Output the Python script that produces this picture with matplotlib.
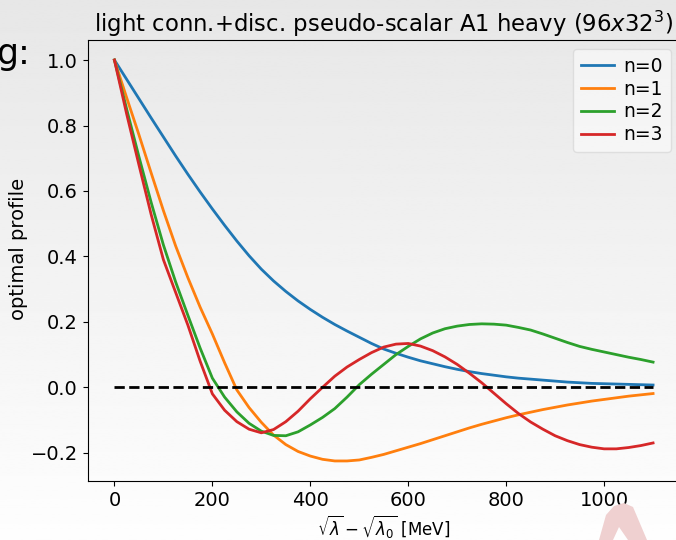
import numpy as np
import matplotlib
matplotlib.use("Agg")
import matplotlib.pyplot as plt
from matplotlib.patches import Polygon

# x grid (sqrt(lambda) - sqrt(lambda_0), MeV), values every 25 MeV
x_mev = list(range(0, 1101, 25))

# optimal profiles, one per n
prof_n0 = [1.0, 0.941, 0.882, 0.823, 0.765, 0.707, 0.651, 0.597, 0.545, 0.495,
           0.447, 0.402, 0.361, 0.325, 0.293, 0.264, 0.238, 0.214, 0.192, 0.172,
           0.153, 0.134, 0.117, 0.104, 0.092, 0.081, 0.072, 0.063, 0.055, 0.048,
           0.042, 0.037, 0.032, 0.028, 0.025, 0.022, 0.019, 0.016, 0.014, 0.012,
           0.011, 0.01, 0.009, 0.008, 0.007]
prof_n1 = [1.0, 0.885, 0.772, 0.655, 0.54, 0.432, 0.335, 0.245, 0.163, 0.075,
           -0.008, -0.062, -0.107, -0.146, -0.175, -0.196, -0.21, -0.22, -0.225, -0.225,
           -0.222, -0.214, -0.205, -0.194, -0.183, -0.172, -0.16, -0.148, -0.136, -0.124,
           -0.113, -0.103, -0.093, -0.084, -0.076, -0.068, -0.061, -0.054, -0.048, -0.042,
           -0.037, -0.032, -0.027, -0.023, -0.019]
prof_n2 = [1.0, 0.85, 0.705, 0.565, 0.435, 0.322, 0.22, 0.12, 0.028, -0.03,
           -0.075, -0.11, -0.134, -0.147, -0.148, -0.136, -0.115, -0.092, -0.065, -0.03,
           0.008, 0.04, 0.07, 0.1, 0.125, 0.148, 0.166, 0.179, 0.187, 0.192,
           0.194, 0.193, 0.19, 0.183, 0.175, 0.163, 0.15, 0.137, 0.125, 0.116,
           0.108, 0.1, 0.092, 0.085, 0.077]
prof_n3 = [1.0, 0.835, 0.68, 0.528, 0.39, 0.29, 0.19, 0.08, -0.02, -0.07,
           -0.105, -0.128, -0.139, -0.129, -0.105, -0.073, -0.035, 0.0, 0.034, 0.062,
           0.085, 0.106, 0.123, 0.132, 0.134, 0.126, 0.112, 0.093, 0.07, 0.043,
           0.014, -0.018, -0.05, -0.08, -0.106, -0.128, -0.148, -0.163, -0.175, -0.183,
           -0.188, -0.188, -0.184, -0.178, -0.17]

labels = ["n=0", "n=1", "n=2", "n=3"]

fig = plt.figure(figsize=(6.76, 5.4), dpi=100)

# slide background: light grey at the top fading to white at the bottom
bg = fig.add_axes([0, 0, 1, 1], zorder=-10)
grad = np.linspace(0.905, 0.995, 256).reshape(-1, 1)  # first row = top
bg.imshow(grad, cmap="gray", vmin=0, vmax=1, aspect="auto", extent=[0, 1, 0, 1])
bg.set_xlim(0, 1)
bg.set_ylim(0, 1)
bg.axis("off")

# bits of the slide around the chart
fig.text(-0.006, 1 - 64 / 540, "g:", fontsize=25, va="baseline", ha="left")
logo_px = [(599, 540), (606, 515), (614, 506), (624, 503), (633, 507), (647, 540),
           (628, 540), (619, 527), (613, 540)]
logo = Polygon([(px / 676, 1 - py / 540) for px, py in logo_px], closed=True,
               facecolor="#efd0d0", edgecolor="none", transform=fig.transFigure)
fig.patches.append(logo)

ax = fig.add_axes([87.5 / 676, 59 / 540, 592.5 / 676, 441 / 540])
ax.set_facecolor("none")

for prof, lab in zip([prof_n0, prof_n1, prof_n2, prof_n3], labels):
    ax.plot(x_mev, prof, lw=2, label=lab)
ax.plot([x_mev[0], x_mev[-1]], [0, 0], "k--", lw=2)

ax.set_xticks([0, 200, 400, 600, 800, 1000])
ax.set_yticks([-0.2, 0.0, 0.2, 0.4, 0.6, 0.8, 1.0])
ax.tick_params(labelsize=14)
ax.set_xlabel(r"$\sqrt{\lambda} - \sqrt{\lambda_0}$ [MeV]", fontsize=12, labelpad=3)
ax.set_ylabel("optimal profile", fontsize=14)
ax.yaxis.set_label_coords(-0.1, 0.526)
ax.set_title(r"light conn.+disc. pseudo-scalar A1 heavy (96$x$32$^3$)", fontsize=16.4)
ax.legend(loc="upper right", fontsize=13.5, labelspacing=0.2, handlelength=1.8,
          handletextpad=0.5, framealpha=0.5)

fig.savefig("out.png", dpi=100)
